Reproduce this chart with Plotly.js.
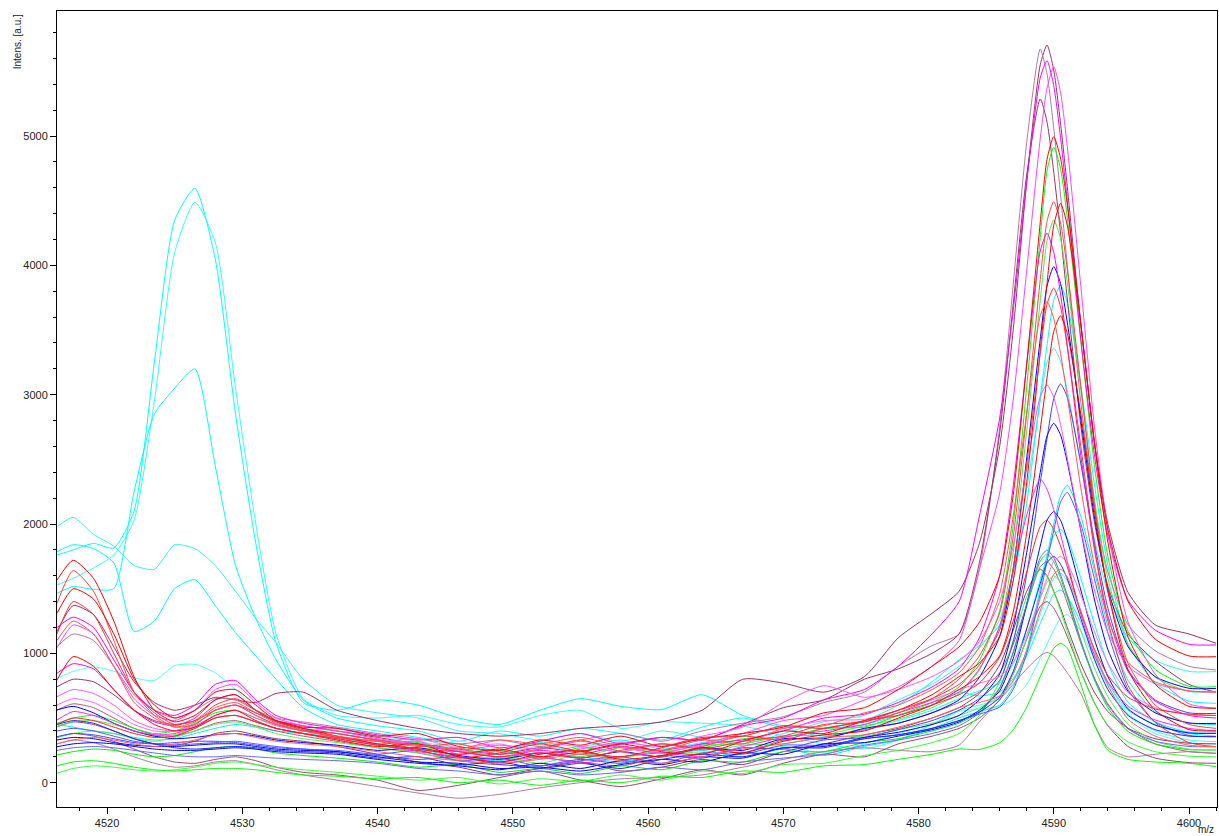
<!DOCTYPE html>
<html><head><meta charset="utf-8">
<script src="https://cdn.plot.ly/plotly-3.0.1.min.js"></script>
<style>html,body{margin:0;padding:0;background:#fff;} #chart{width:1219px;height:836px;}</style>
</head><body><div id="chart"></div>
<script>
// m/z sampling positions shared by all spectra
const mz = [4516.3, 4517.5, 4519, 4520.5, 4522, 4523.5, 4525, 4526.5, 4528, 4529.5, 4531, 4532.5, 4534.5,
  4537, 4540, 4543, 4546, 4549, 4552, 4555, 4558, 4561, 4564, 4567, 4570, 4573, 4576, 4578.5, 4581, 4583,
  4584.5, 4586, 4587, 4588, 4589, 4589.5, 4590, 4590.5, 4591, 4592, 4593, 4594, 4595.5, 4597.5, 4600, 4602];

// cyan spectra
const cyanA = [1760,1800,1850,1815,2100,3250,4350,4596,4050,2850,1850,1080,620, 560,640,600,500,450,560,650,590,565,680,520,440,420,450,520,600,700, 670,700,805,980,1230,1350,1460,1490,1440,1240,980,770,560,450,380,360];
const cyanB = [1529,1580,1660,1760,2030,2950,4100,4488,4180,3050,2000,1150,650, 520,500,520,450,430,520,560,420,470,460,440,360,300,260,330,450,560, 600,650,780,1000,1300,1450,1580,1620,1560,1320,1020,775,530,400,330,317];
const cyanC = [1464,1516,1495,1500,2250,2850,3050,3200,2450,1680,1270,950,640, 500,440,400,320,400,360,420,380,330,430,500,420,360,420,480,560,650, 710,770,920,1190,1570,1750,1910,1960,1890,1580,1230,920,620,470,390,382];
const cyanD = [1979,2052,1920,1830,1680,1650,1840,1810,1680,1480,1270,1080,800, 600,540,500,400,380,330,380,320,400,350,300,380,470,520,640,760,900, 1040,1260,1640,2270,2950,3250,3360,3260,3035,2460,1890,1470,1120,945,860,859];
const cyanE = [1786,1840,1810,1700,1170,1250,1500,1570,1370,1160,980,800,580, 450,400,350,300,250,310,280,330,260,310,360,330,420,480,600,780,950, 1060,1220,1560,2160,2980,3380,3730,3845,3710,3070,2310,1680,1070,770,630,614];
const cyanF = [807,860,895,862,810,790,905,915,850,720,560,460,420, 400,360,320,260,220,280,240,200,260,300,240,280,230,300,380,450,550, 570,590,650,760,960,1070,1180,1270,1300,1170,960,745,520,380,310,300];
const cyanG = [450,430,400,380,350,330,340,380,420,450,430,400,380, 350,300,260,200,170,230,200,160,210,250,200,260,210,280,330,420,500, 550,600,740,1030,1500,1750,2000,2220,2300,2060,1640,1210,790,550,460,450];

// red spectra
const red1 = [1567,1720,1580,1250,820,560,470,520,640,680,560,480,430, 420,360,380,280,250,330,290,360,280,340,380,430,540,580,720,900,1050, 1240,1600,2220,3240,4330,4820,4995,4830,4470,3555,2640,1960,1400,1110,980,974];
const red2 = [1386,1640,1480,1100,700,520,430,450,560,600,520,450,400, 380,330,280,300,220,260,330,240,200,280,360,330,420,470,540,650,800, 980,1310,1900,2850,3890,4340,4492,4330,3970,3070,2160,1490,920,600,450,420];
const red3 = [1310,1500,1420,1150,800,600,500,560,700,720,600,480,420, 360,300,260,220,260,200,240,300,240,220,320,400,380,480,560,680,820, 925,1130,1560,2320,3340,3860,4310,4480,4310,3545,2630,1860,1125,760,590,575];
const red4 = [1150,1400,1300,1000,700,540,450,480,600,650,560,470,410, 350,320,260,240,200,230,190,250,300,260,320,360,450,470,560,650,760, 910,1180,1660,2460,3320,3700,3825,3680,3370,2600,1830,1250,750,465,310,278];
const red5 = [794,975,900,720,560,450,400,430,520,560,480,420,380, 330,280,300,200,160,220,250,180,210,270,230,320,370,400,500,600,720, 820,980,1320,1930,2730,3130,3490,3610,3475,2850,2105,1480,870,560,410,400];
const red6 = [1100,1250,1150,900,620,500,430,470,580,620,540,460,400, 360,320,290,260,330,300,350,280,250,330,300,420,440,540,600,720,850, 1050,1460,2060,2860,3610,3720,3590,3320,2990,2280,1680,1270,930,780,710,700];
const red7 = [450,500,480,430,380,350,360,420,500,520,470,420,380, 340,290,250,190,230,300,240,200,270,350,360,440,420,480,520,600,680, 770,970,1250,1630,1980,2030,1960,1830,1670,1320,1035,830,660,570,530,520];
const red8 = [300,330,350,330,300,280,300,330,370,380,350,320,300, 280,240,200,170,150,180,220,170,150,200,260,300,350,370,430,500,580, 620,670,790,1020,1330,1480,1610,1650,1590,1330,1020,755,490,360,290,278];

// magenta spectra
const mag1 = [1200,1280,1200,950,700,560,520,600,760,790,640,520,460, 420,370,330,350,270,320,380,300,350,330,440,500,640,720,900,1150,1400, 2060,2820,3650,4640,5450,5583,5390,4990,4500,3430,2540,1910,1410,1180,1070,1065];
const mag2 = [1043,1220,1150,900,650,520,480,560,720,760,620,500,440, 400,340,300,250,290,260,320,270,230,300,380,480,520,640,740,900,1100, 1650,2240,2960,3960,4980,5370,5536,5340,4920,3840,2760,1950,1240,840,610,575];
const mag3 = [846,920,880,720,560,470,440,500,640,680,560,470,420, 380,330,290,240,200,250,220,280,250,300,330,400,500,530,620,740,880, 1120,1600,2290,3230,4110,4250,4100,3780,3380,2530,1810,1290,860,630,520,500];
const mag4 = [665,720,690,600,480,420,400,440,520,560,500,440,400, 360,300,320,220,240,190,260,310,280,360,430,620,750,660,720,820,940, 1090,1400,1830,2430,2985,3075,2980,2770,2510,1960,1490,1160,900,765,710,700];
const mag5 = [485,550,520,460,400,370,380,430,500,520,470,420,380, 340,290,240,200,160,200,150,200,230,200,280,350,400,450,540,620,700, 880,1210,1630,2070,2348,2270,2110,1920,1710,1300,990,780,590,485,420,400];
const mag6 = [600,650,620,540,450,400,400,450,560,600,520,450,400, 350,320,340,270,300,230,280,240,300,280,380,420,480,490,560,640,720, 770,820,930,1145,1435,1580,1710,1750,1700,1450,1170,925,695,580,525,520];

// brown spectra
const brown1 = [1168,1370,1300,1050,780,620,560,600,660,640,620,690,700, 560,480,420,380,360,380,420,440,470,560,800,770,700,820,1120,1310,1480, 1850,2600,3500,4650,5550,5704,5510,5100,4610,3540,2640,2000,1470,1220,1150,1078];
const brown2 = [1052,1150,1100,900,680,560,500,560,650,640,560,500,470, 430,380,340,300,330,280,330,380,320,400,460,510,620,700,900,1060,1150, 1650,2750,3850,4950,5673,5480,5060,4550,4000,2940,2150,1630,1220,1020,900,871];
const brown3 = [742,800,780,680,560,480,450,480,560,600,540,480,440, 400,350,300,260,220,270,240,300,350,330,450,580,640,800,880,1000,1150, 1700,2700,3700,4700,5287,5110,4720,4250,3740,2760,2020,1520,1150,940,760,700];
const brown4 = [562,610,580,500,420,370,360,400,460,480,440,400,360, 320,270,230,170,140,190,160,130,200,260,230,330,350,410,460,540,620, 700,850,1070,1370,1670,1709,1650,1540,1390,1080,810,610,420,300,240,227];
const brown5 = [433,470,450,400,340,300,290,320,380,400,370,340,320, 280,220,160,120,60,110,160,90,120,180,140,240,300,370,420,500,580, 690,910,1180,1480,1650,1600,1480,1350,1200,920,700,550,420,340,305,300];
const brown6 = [300,330,310,260,200,150,120,130,160,170,140,100,60, 20,-30,-80,-120,-90,-40,0,30,40,60,120,180,240,270,250,240,290, 470,640,760,880,980,1008,980,920,850,690,450,270,200,220,240,227];
const brown7 = [350,380,360,320,260,200,160,150,180,200,170,120,80, 60,20,-60,-20,40,90,20,-30,30,100,60,150,220,200,300,360,420, 500,640,840,1110,1365,1400,1350,1250,1130,860,620,440,280,190,155,150];

// blue spectra
const blue1 = [562,590,540,460,400,360,340,350,370,380,360,330,310, 290,250,270,210,180,230,190,240,200,270,250,340,340,420,460,540,640, 815,1130,1650,2510,3430,3840,3990,3860,3560,2810,2060,1500,1050,820,730,729];
const blue2 = [356,380,370,340,310,300,310,320,320,310,290,270,260, 240,210,180,200,140,130,180,150,210,190,270,260,330,350,410,480,560, 650,790,1090,1610,2320,2660,2970,3083,2980,2470,1860,1350,870,640,540,536];
const blue3 = [278,300,310,300,280,260,250,250,260,270,260,240,230, 220,180,150,130,100,150,110,170,140,200,190,270,280,350,390,450,520, 640,840,1200,1780,2400,2680,2779,2690,2480,1950,1420,1030,705,540,462,459];
const blue4 = [400,420,400,360,320,300,290,300,310,320,300,280,260, 250,220,250,170,190,130,170,200,150,230,220,290,290,340,370,420,480, 530,585,720,1000,1460,1710,1950,2170,2245,2000,1580,1160,720,470,365,356];
const blue5 = [330,350,340,310,290,280,280,290,300,300,280,260,250, 240,200,160,150,110,120,90,140,180,160,230,220,300,310,360,410,470, 560,710,960,1380,1830,2030,2096,2030,1875,1490,1110,820,570,445,385,382];
const blue6 = [250,270,280,270,250,230,210,200,200,210,200,190,180, 170,150,110,90,60,90,60,80,120,100,160,190,220,290,330,380,440, 540,730,1010,1385,1740,1799,1740,1610,1450,1100,810,600,415,320,280,278];
const blue7 = [450,480,460,400,340,300,270,260,270,280,270,250,240, 230,190,200,140,160,110,150,110,180,220,200,270,270,340,370,420,480, 545,660,860,1190,1540,1700,1750,1690,1575,1270,955,720,520,410,360,356];

// green spectra
const green1 = [459,500,520,480,420,380,400,460,540,560,500,450,410, 380,330,310,240,250,200,270,240,300,270,340,350,420,430,520,620,740, 945,1330,1990,3060,4215,4730,4913,4750,4370,3415,2460,1750,1170,875,745,742];
const green2 = [433,470,480,450,400,360,370,420,500,520,470,420,380, 350,300,260,270,190,230,200,270,230,290,300,360,370,440,490,580,690, 870,1210,1780,2720,3730,4190,4351,4210,3870,3040,2200,1580,1070,815,705,704];
const green3 = [214,240,260,250,220,200,210,240,270,280,260,230,210, 190,160,120,140,80,110,70,130,100,170,160,240,240,310,340,400,460, 546,736,1004,1366,1713,1768,1710,1585,1430,1090,795,580,395,300,255,253];
const green4 = [73,110,130,120,100,90,100,120,150,160,140,120,100, 80,50,20,40,-10,30,10,60,20,90,70,140,150,210,250,310,380, 520,780,1100,1440,1650,1590,1475,1330,1170,860,615,445,315,240,205,200];
const green5 = [130,160,170,150,120,100,90,100,110,110,100,80,60, 50,30,40,0,20,-20,20,0,50,40,90,80,130,140,180,220,260, 257,308,408,584,819,936,1040,1078,1042,760,450,250,180,160,150,124];
const green6 = [350,380,400,380,340,320,350,400,450,470,430,380,340, 310,270,230,180,200,150,220,190,250,230,290,300,350,360,410,460,520, 580,670,840,1120,1420,1550,1600,1550,1450,1175,890,665,450,320,260,253];

const series = [
  [cyanA,'#00ffff'],[cyanB,'#33ffff'],[cyanC,'#00ffff'],[cyanD,'#33f5f5'],[cyanE,'#00ffff'],[cyanF,'#55ffff'],[cyanG,'#00f0f0'],
  [brown1,'#993366'],[brown2,'#b27a98'],[brown3,'#993366'],[brown4,'#a85c82'],[brown5,'#993366'],[brown6,'#b27a98'],[brown7,'#9a4a72'],
  [green1,'#00ff00'],[green2,'#44ee44'],[green3,'#00ee00'],[green4,'#33ff33'],[green5,'#00ff00'],[green6,'#55ee55'],
  [blue1,'#0000ff'],[blue2,'#4444ff'],[blue3,'#0000ff'],[blue4,'#5555ff'],[blue5,'#0000ff'],[blue6,'#6666ff'],[blue7,'#2222ff'],
  [mag1,'#ff00ff'],[mag2,'#ff44ff'],[mag3,'#ff00ff'],[mag4,'#ff55ff'],[mag5,'#ff22ff'],[mag6,'#ff66ff'],
  [red1,'#ff0000'],[red2,'#ff4444'],[red3,'#ff0000'],[red4,'#ff3333'],[red5,'#ff0000'],[red6,'#ff5555'],[red7,'#ff2222'],[red8,'#ff6060']
];

const traces = series.map(s => ({
  x: mz, y: s[0], type: 'scatter', mode: 'lines',
  line: {color: s[1], width: 1, shape: 'spline', smoothing: 0.6},
  hoverinfo: 'skip'
}));

const tickFont = {family: 'Liberation Sans, Arial, sans-serif', size: 11, color: '#222'};
const layout = {
  width: 1219, height: 836,
  margin: {l: 57, r: 2, t: 11, b: 29, pad: 0},
  paper_bgcolor: '#fff', plot_bgcolor: '#fff',
  showlegend: false,
  xaxis: {
    range: [4516.3, 4602.07], tickmode: 'linear', tick0: 4520, dtick: 10,
    ticks: 'outside', ticklen: 6, tickwidth: 1, tickcolor: '#000',
    showline: true, linecolor: '#000', linewidth: 1, mirror: true,
    showgrid: false, zeroline: false, tickfont: tickFont,
    minor: {tick0: 4520, dtick: 2, ticks: 'outside', ticklen: 3, tickwidth: 1, tickcolor: '#000', showgrid: false}
  },
  yaxis: {
    range: [-188, 5967], tickmode: 'linear', tick0: 0, dtick: 1000,
    ticks: 'outside', ticklen: 6, tickwidth: 1, tickcolor: '#000',
    showline: true, linecolor: '#000', linewidth: 1, mirror: true,
    showgrid: false, zeroline: false, tickfont: tickFont,
    minor: {tick0: 0, dtick: 200, ticks: 'outside', ticklen: 3, tickwidth: 1, tickcolor: '#000', showgrid: false}
  },
  annotations: [
    {text: 'Intens. [a.u.]', xref: 'paper', yref: 'paper', x: -0.0345, y: 0.999,
     xanchor: 'center', yanchor: 'top', textangle: -90, showarrow: false,
     font: {family: 'Liberation Sans, Arial, sans-serif', size: 10, color: '#222'}},
    {text: 'm/z', xref: 'paper', yref: 'paper', x: 0.9985, y: -0.0364,
     xanchor: 'right', yanchor: 'bottom', showarrow: false, borderpad: 0,
     font: {family: 'Liberation Sans, Arial, sans-serif', size: 10, color: '#222'}}
  ]
};
Plotly.newPlot('chart', traces, layout, {staticPlot: true});
</script>
</body></html>
